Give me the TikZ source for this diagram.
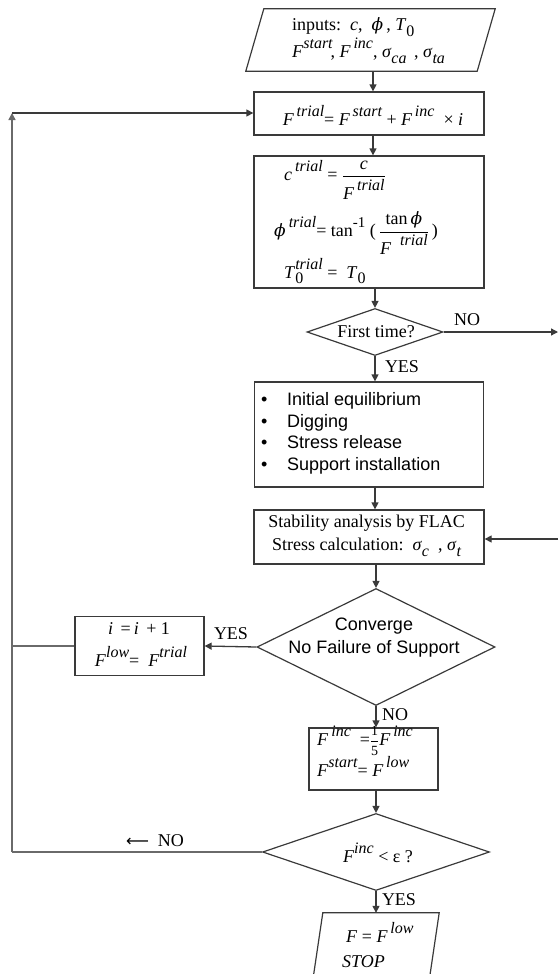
\documentclass[tikz,border=0pt]{standalone}
\usepackage{amsmath}
\usepackage{fontspec}
\setmainfont{Liberation Serif}
\newfontfamily\lsans{Liberation Sans}
\newfontfamily\dvserif{DejaVu Serif}
\newfontfamily\dvsans{DejaVu Sans}
\usetikzlibrary{shapes.geometric,arrows.meta}
\definecolor{edge}{HTML}{3A3A3A}
\definecolor{loopc}{HTML}{6A6A6A}
\newcommand\Sp[1]{\raisebox{0.5em}{\fontsize{16}{16}\selectfont\itshape #1}}
\newcommand\Sup[1]{\raisebox{0.5em}{\fontsize{15}{15}\selectfont #1}}
\newcommand\Sb[1]{\raisebox{-0.32em}{\fontsize{16}{16}\selectfont #1}}
\newcommand\SbSp[2]{\makebox[0pt][l]{\Sb{#1}}\Sp{#2}}
\newcommand\vphi{{\dvserif\itshape\fontsize{17}{17}\selectfont ϕ}}
\newcommand\Fr[2]{$\dfrac{\text{#1}}{\text{#2}}$}
\newcommand\tightlines{\lineskiplimit=-60pt\relax}
\tikzset{
  box/.style={draw=edge, line width=1.3pt, rectangle, inner sep=0pt},
  dia/.style={draw=edge, line width=1.2pt, diamond, inner sep=0pt},
  paraframe/.style={rectangle, inner sep=0pt},
  paraline/.style={draw=edge, line width=1.2pt},
  txt/.style={inner sep=0pt, font=\fontsize{18}{21}\selectfont},
  stxt/.style={inner sep=0pt, font=\lsans\fontsize{18}{21.5}\selectfont},
  arr/.style={draw=edge, line width=1.3pt, -{Triangle[length=7pt,width=7pt]}},
  loopln/.style={draw=loopc, line width=1.6pt},
}
\begin{document}
\begin{tikzpicture}[x=1pt,y=-1pt]
\useasboundingbox (0,0) rectangle (558,974);
% ---------- shapes ----------
\node[paraframe, minimum width=231pt, minimum height=62pt] (in1) at (370.5,40) {};
\draw[paraline] ([xshift=9pt]in1.north west) -- ([xshift=9pt]in1.north east)
  -- ([xshift=-9pt]in1.south east) -- ([xshift=-9pt]in1.south west) -- cycle;
\node[box, minimum width=230pt, minimum height=43pt] (b2) at (369,113.5) {};
\node[box, minimum width=230pt, minimum height=132pt] (b3) at (369,222) {};
\node[dia, minimum width=136pt, minimum height=47pt] (d1) at (375,332) {};
\node[box, minimum width=229pt, minimum height=105pt] (b4) at (369,434.5) {};
\node[box, minimum width=230pt, minimum height=54pt] (b5) at (369,537) {};
\node[dia, minimum width=238pt, minimum height=117pt] (d2) at (376,647) {};
\node[box, minimum width=129pt, minimum height=59pt] (b6) at (139.5,646) {};
\node[box, minimum width=129pt, minimum height=62pt] (b7) at (373.5,759) {};
\node[dia, minimum width=227pt, minimum height=77pt] (d3) at (376,852) {};
\node[paraframe, minimum width=116pt, minimum height=67pt] (out) at (376,946.5) {};
\draw[paraline] ([xshift=5pt]out.north west) -- ([xshift=5pt]out.north east)
  -- ([xshift=-5pt]out.south east) -- ([xshift=-5pt]out.south west) -- cycle;
% ---------- texts ----------
\node[txt, anchor=west, align=left, font=\fontsize{18}{27}\selectfont] (in1t) at (292,41)
  {inputs:\ \ \textit{c},\ \ \vphi\,, \textit{T}\Sb{0}\\
   \textit{F}\Sp{start}\hspace{-2pt}, \textit{F}\Sp{\,inc}, \textit{σ}\Sb{\itshape ca}\, , \textit{σ}\Sb{\itshape ta}};
\node[txt] (b2t) at (373,115)
  {\textit{F}\Sp{\,trial}= \textit{F}\Sp{\,start} + \textit{F}\Sp{\,inc}\ \ × \textit{i}};
\node[txt, anchor=west] (b3a) at (284,180)
  {\textit{c}\,\Sp{trial}\ =\ \Fr{\itshape c}{\itshape F\,\Sp{trial}}};
\node[txt, anchor=west] (b3b) at (274,233)
  {\vphi\,\Sp{trial}= tan\Sup{-1}\ (\,\Fr{tan\,\vphi}{\itshape F\ \ \Sp{trial}}\,)};
\node[txt, anchor=west] (b3c) at (284,271)
  {\textit{T}\SbSp{0}{trial} =\ \ \textit{T}\Sb{0}};
\node[txt] (d1t) at (376,332) {First time?};
\node[stxt, anchor=west, align=left] (b4t) at (261,433.5)
  {\makebox[26pt][l]{•}Initial equilibrium\\
   \makebox[26pt][l]{•}Digging\\
   \makebox[26pt][l]{•}Stress release\\
   \makebox[26pt][l]{•}Support installation};
\node[txt, align=center, font=\fontsize{18}{23}\selectfont] (b5t) at (366.5,535.5)
  {Stability analysis by FLAC\\
   Stress calculation:\ \ \textit{σ}\Sb{\itshape c}\ \ , \textit{σ}\Sb{\itshape t}};
\node[stxt, align=center, font=\lsans\fontsize{18}{23}\selectfont] (d2t) at (374,638)
  {Converge\\No Failure of Support};
\node[txt] (b6a) at (139,629) {\textit{i} \,=\,\textit{i} \,+ 1};
\node[txt] (b6b) at (141,656) {\textit{F}\Sp{low}= \ \textit{F}\Sp{trial}};
\node[txt, anchor=west, align=left] (b7t) at (317,751)
  {\tightlines\textit{F}\,\Sp{inc}\ \ ={\fontsize{14}{14}\selectfont\Fr{1}{5}}\textit{F}\Sp{\,inc}\\
   \textit{F}\Sp{start}= \textit{F}\Sp{\,low}};
\node[txt] (d3t) at (378,853) {\textit{F}\Sp{inc} <\ ε ?};
\node[txt, anchor=west, align=left, font=\fontsize{18}{25}\selectfont] (outt) at (342,945)
  {\hspace{4pt}\textit{F} = \textit{F}\Sp{\,low}\\ \textit{STOP}};
% ---------- labels ----------
\node[txt] (lyes1) at (402,367) {YES};
\node[txt] (lno1) at (467,320) {NO};
\node[txt] (lyes2) at (231,634) {YES};
\node[txt] (lno2) at (395,715) {NO};
\node[txt] (lno3) at (155,841) {{\dvsans\fontsize{16}{16}\selectfont ⟵}\ \ NO};
\node[txt] (lyes3) at (399,900) {YES};
% ---------- coordinates ----------
\coordinate (colX) at (373,0);
\coordinate (loopT) at (12,113);
\coordinate (loopB) at (12,852);
\coordinate (noR) at (558,332);
\coordinate (inR) at (558,539);
% ---------- connectors ----------
\draw[arr] (in1.south -| colX) -- (b2.north -| colX);
\draw[arr] (b2.south -| colX) -- (b3.north -| colX);
\draw[arr] (b3.south -| d1.north) -- (d1.north);
\draw[arr] (d1.south) -- (d1.south |- b4.north);
\draw[arr] (b4.south -| d1.south) -- (b5.north -| d1.south);
\draw[arr] (b5.south -| d2.north) -- (d2.north);
\draw[arr] (d2.west) -- (b6.east);
\draw[arr] (d2.south) -- (d2.south |- b7.north);
\draw[arr] (b7.south -| d3.north) -- (d3.north);
\draw[arr] (d3.south) -- (d3.south |- out.north);
\draw[arr] (d1.east) -- (noR);
\draw[arr] (inR) -- (inR -| b5.east);
\draw[loopln] (b6.west) -- (b6.west -| loopB);
\draw[loopln] (d3.west) -- (loopB);
\draw[loopln, -{Triangle[length=7pt,width=7pt]}] (loopB) -- (loopT);
\draw[arr] (loopT) -- (loopT -| b2.west);
\end{tikzpicture}
\end{document}
